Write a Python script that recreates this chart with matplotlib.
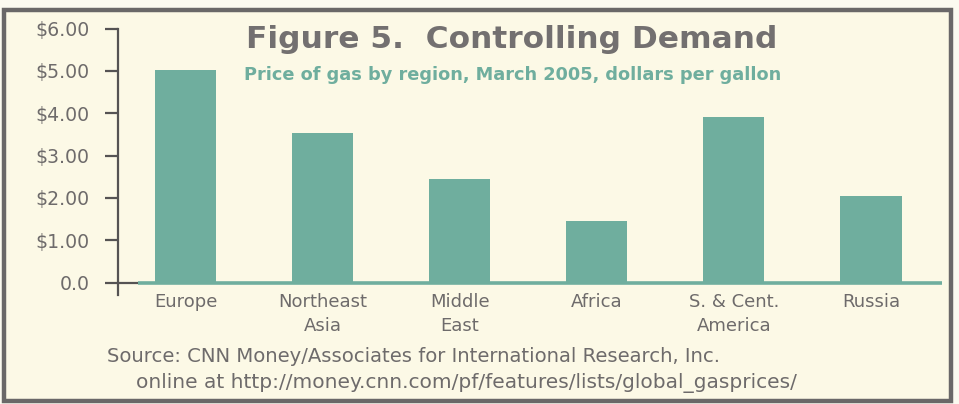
import matplotlib
matplotlib.use("Agg")
import matplotlib.pyplot as plt
from matplotlib.patches import Rectangle

regions = ["Europe", "Northeast\nAsia", "Middle\nEast", "Africa", "S. & Cent.\nAmerica", "Russia"]
prices = [5.03, 3.53, 2.45, 1.46, 3.92, 2.05]
yticks = [0, 1, 2, 3, 4, 5, 6]
ytick_labels = ["0.0", "$1.00", "$2.00", "$3.00", "$4.00", "$5.00", "$6.00"]

title = "Figure 5.  Controlling Demand"
subtitle = "Price of gas by region, March 2005, dollars per gallon"
source1 = "Source: CNN Money/Associates for International Research, Inc."
source2 = "online at http://money.cnn.com/pf/features/lists/global_gasprices/"

W, H = 959, 404
BG = "#FCF9E6"
TEAL = "#6FAE9E"
GRAY = "#6E6B6B"
DARK = "#555353"

fig = plt.figure(figsize=(W / 100, H / 100), dpi=100)
fig.patch.set_facecolor("#FBFAF0")

def fx(px):
    return px / W

def fy(py):
    return 1 - py / H

# frame
fig.patches.append(Rectangle((fx(4), fy(401)), fx(951) - fx(4), fy(10) - fy(401),
                             transform=fig.transFigure, facecolor=BG,
                             edgecolor="#6A6868", linewidth=3.2, zorder=-10))

# axes: left spine at x=118px, y=0 at 282.5px, y=6 at 28.5px
unit = (282.5 - 28.5) / 6.0
y_bottom = -0.3
ax_left, ax_right = 118, 945
ax_top_px = 28.5
ax_bottom_px = 282.5 - y_bottom * unit
ax = fig.add_axes([fx(ax_left), fy(ax_bottom_px), fx(ax_right) - fx(ax_left),
                   fy(ax_top_px) - fy(ax_bottom_px)])
ax.set_facecolor("none")
ax.set_zorder(1)

step = 137.1
x0 = (ax_left - 185.5) / step
x1 = (ax_right - 185.5) / step
xs = list(range(len(regions)))
ax.bar(xs, prices, width=0.445, color=TEAL, zorder=2)
ax.set_xlim(x0, x1)
ax.set_ylim(y_bottom, 6.0)

# baseline
ax.plot([(138 - 185.5) / step, (942 - 185.5) / step], [0, 0], color=TEAL, lw=2.6,
        solid_capstyle="butt", zorder=3, clip_on=False)
ax.plot([x0, (138 - 185.5) / step], [0, 0], color=DARK, lw=1.6,
        solid_capstyle="butt", zorder=3, clip_on=False)

for s in ["top", "right", "bottom"]:
    ax.spines[s].set_visible(False)
ax.spines["left"].set_color(DARK)
ax.spines["left"].set_linewidth(1.6)
ax.spines["left"].set_bounds(y_bottom, 6.0)

ax.set_yticks(yticks)
ax.set_yticklabels(ytick_labels)
ax.tick_params(axis="y", length=9.5, width=1.6, color=DARK, pad=11,
               labelsize=13.6, labelcolor=GRAY)
ax.set_xticks([])

for x, lab in zip(xs, regions):
    ax.text(x, -0.25, lab, ha="center", va="top", fontsize=13, color=GRAY,
            linespacing=1.45, transform=ax.transData, clip_on=False)

fig.text(fx(512), fy(40), title, ha="center", va="center", fontsize=22.5,
         fontweight="bold", color="#737070")
fig.text(fx(513), fy(75), subtitle, ha="center", va="center", fontsize=12.75,
         fontweight="bold", color=TEAL)
fig.text(fx(107), fy(357), source1, ha="left", va="center", fontsize=14.1, color=GRAY)
fig.text(fx(136), fy(383), source2, ha="left", va="center", fontsize=14.5, color=GRAY)

fig.savefig("out.png", dpi=100, facecolor=fig.get_facecolor())
